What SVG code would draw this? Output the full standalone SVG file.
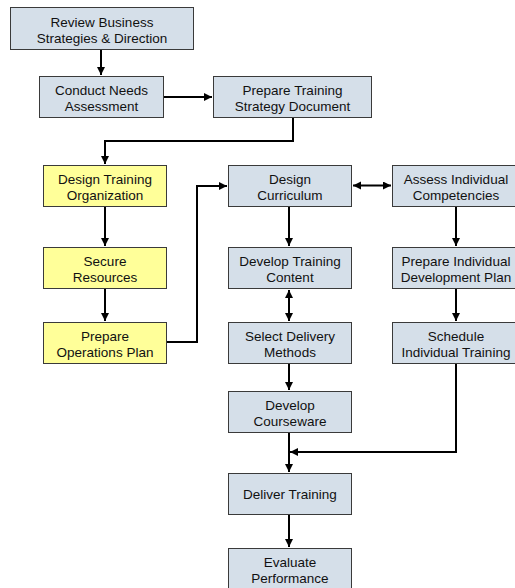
<svg xmlns="http://www.w3.org/2000/svg" width="515" height="588" viewBox="0 0 515 588">
  <style>
    .box { fill: #d5dfe9; stroke: #3a3a3a; stroke-width: 1; }
    .org { fill: #ffff99; stroke: #3a3a3a; stroke-width: 1; }
    text { font-family: "Liberation Sans", Arial, sans-serif; font-size: 13.5px; fill: #111; text-anchor: middle; }
    .wire { fill: none; stroke: #000; stroke-width: 2; }
  </style>
  <defs>
    <marker id="head" markerUnits="userSpaceOnUse" markerWidth="10" markerHeight="10" refX="8" refY="4" orient="auto-start-reverse">
      <path d="M0,0 L8,4 L0,8 Z" fill="#000"/>
    </marker>
  </defs>

  <rect width="515" height="588" fill="#fff"/>

  <g id="review">
    <rect class="box" x="10.5" y="7.5" width="183" height="42"/>
    <text x="102" y="26.5">Review Business</text>
    <text x="102" y="42.5">Strategies &amp; Direction</text>
  </g>
  <g id="needs">
    <rect class="box" x="39.5" y="76.5" width="124" height="41"/>
    <text x="101.5" y="95">Conduct Needs</text>
    <text x="101.5" y="111">Assessment</text>
  </g>
  <g id="strategy">
    <rect class="box" x="213.5" y="76.5" width="158" height="41"/>
    <text x="292.5" y="95">Prepare Training</text>
    <text x="292.5" y="111">Strategy Document</text>
  </g>
  <g id="organization">
    <rect class="org" x="43.5" y="165.5" width="123" height="41"/>
    <text x="105" y="184">Design Training</text>
    <text x="105" y="200">Organization</text>
  </g>
  <g id="resources">
    <rect class="org" x="43.5" y="247.5" width="123" height="41"/>
    <text x="105" y="266">Secure</text>
    <text x="105" y="282">Resources</text>
  </g>
  <g id="operations">
    <rect class="org" x="43.5" y="322.5" width="123" height="41"/>
    <text x="105" y="341">Prepare</text>
    <text x="105" y="357">Operations Plan</text>
  </g>
  <g id="curriculum">
    <rect class="box" x="228.5" y="165.5" width="123" height="41"/>
    <text x="290" y="184">Design</text>
    <text x="290" y="200">Curriculum</text>
  </g>
  <g id="competencies">
    <rect class="box" x="392.5" y="165.5" width="127" height="41"/>
    <text x="456" y="184">Assess Individual</text>
    <text x="456" y="200">Competencies</text>
  </g>
  <g id="content">
    <rect class="box" x="228.5" y="247.5" width="123" height="41"/>
    <text x="290" y="266">Develop Training</text>
    <text x="290" y="282">Content</text>
  </g>
  <g id="devplan">
    <rect class="box" x="392.5" y="247.5" width="127" height="41"/>
    <text x="456" y="266">Prepare Individual</text>
    <text x="456" y="282">Development Plan</text>
  </g>
  <g id="delivery">
    <rect class="box" x="228.5" y="322.5" width="123" height="41"/>
    <text x="290" y="341">Select Delivery</text>
    <text x="290" y="357">Methods</text>
  </g>
  <g id="schedule">
    <rect class="box" x="392.5" y="322.5" width="127" height="41"/>
    <text x="456" y="341">Schedule</text>
    <text x="456" y="357">Individual Training</text>
  </g>
  <g id="courseware">
    <rect class="box" x="228.5" y="391.5" width="123" height="41"/>
    <text x="290" y="410">Develop</text>
    <text x="290" y="426">Courseware</text>
  </g>
  <g id="deliver">
    <rect class="box" x="228.5" y="473.5" width="123" height="41"/>
    <text x="290" y="499">Deliver Training</text>
  </g>
  <g id="evaluate">
    <rect class="box" x="228.5" y="548.5" width="123" height="41"/>
    <text x="290" y="567">Evaluate</text>
    <text x="290" y="583">Performance</text>
  </g>

  <g id="connectors">
    <path class="wire" d="M101 50 V75" marker-end="url(#head)"/>
    <path class="wire" d="M164 97 H212" marker-end="url(#head)"/>
    <path class="wire" d="M293 118 V141 H105 V164" marker-end="url(#head)"/>
    <path class="wire" d="M105 207 V246" marker-end="url(#head)"/>
    <path class="wire" d="M105 289 V321" marker-end="url(#head)"/>
    <path class="wire" d="M167 342 H197 V186 H227" marker-end="url(#head)"/>
    <path class="wire" d="M353 185.5 H391" marker-start="url(#head)" marker-end="url(#head)"/>
    <path class="wire" d="M289 207 V246" marker-end="url(#head)"/>
    <path class="wire" d="M289 290 V321" marker-start="url(#head)" marker-end="url(#head)"/>
    <path class="wire" d="M289 364 V390" marker-end="url(#head)"/>
    <path class="wire" d="M289 433 V472" marker-end="url(#head)"/>
    <path class="wire" d="M456 364 V452 H290" marker-end="url(#head)"/>
    <path class="wire" d="M289 515 V547" marker-end="url(#head)"/>
    <path class="wire" d="M456 207 V246" marker-end="url(#head)"/>
    <path class="wire" d="M456 289 V321" marker-end="url(#head)"/>
  </g>
</svg>
